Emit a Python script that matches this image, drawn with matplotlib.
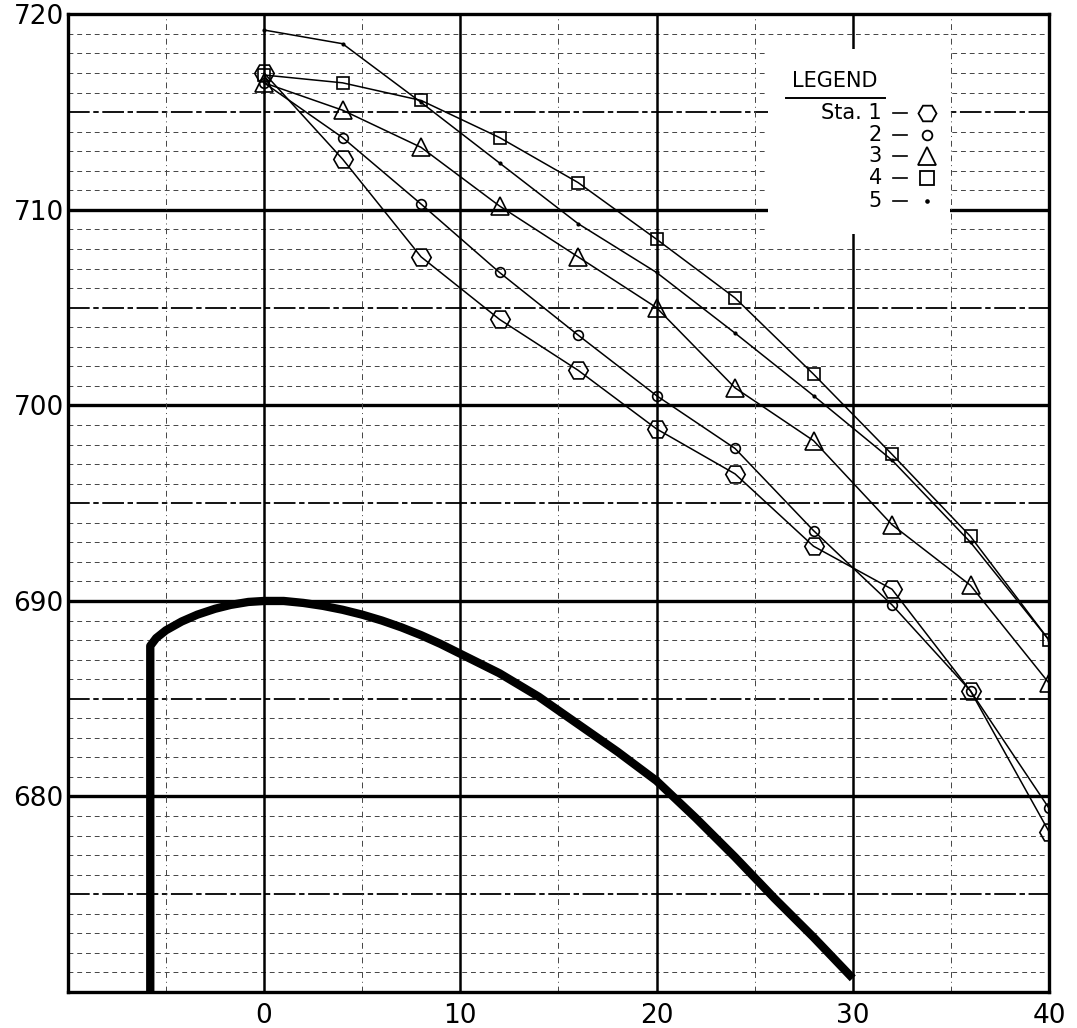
import numpy as np
import matplotlib
matplotlib.use('Agg')
from matplotlib import pyplot as plt
from matplotlib.patches import Rectangle

# station readings (x = distance, y = elevation)
xs = [0, 4, 8, 12, 16, 20, 24, 28, 32, 36, 40]
sta1 = [717.0, 712.6, 707.6, 704.4, 701.8, 698.8, 696.5, 692.8, 690.6, 685.4, 678.2]
sta2 = [716.5, 713.7, 710.3, 706.8, 703.6, 700.5, 697.8, 693.6, 689.8, 685.4, 679.4]
sta3 = [716.5, 715.1, 713.2, 710.2, 707.6, 705.0, 700.9, 698.2, 693.9, 690.8, 685.8]
sta4 = [716.9, 716.5, 715.6, 713.7, 711.4, 708.5, 705.5, 701.6, 697.5, 693.3, 688.0]
sta5 = [719.2, 718.5, 715.5, 712.4, 709.3, 706.8, 703.7, 700.5, 697.2, 693.0, 688.0]

# heavy profile curve
cx = [-5.8, -5.8, -5.5, -5.0, -4.2, -3.4, -2.5, -1.7, -0.8, 0, 1, 2, 3, 4, 5, 6, 7, 8, 9, 10,
      12, 14, 16, 18, 20, 22, 24, 26, 28, 30]
cy = [669.5, 687.7, 688.1, 688.5, 688.95, 689.3, 689.6, 689.8, 689.95, 690.0, 690.0, 689.9,
      689.75, 689.55, 689.3, 689.0, 688.65, 688.25, 687.8, 687.3,
      686.3, 685.1, 683.7, 682.3, 680.8, 678.9, 676.9, 674.8, 672.8, 670.7]

xticks = [0, 10, 20, 30, 40]
yticks = [680, 690, 700, 710, 720]

plt.rcParams['font.family'] = ['DejaVu Sans']
f = plt.figure(figsize=(10.77, 10.28), dpi=100)
ax = f.add_axes([0.063, 0.035, 0.911, 0.951])
ax.set_xlim(-10, 40)
ax.set_ylim(670, 720)

# grid: 1-unit dashed, 5-unit medium, 10-unit heavy
for yv in range(671, 720):
    if yv % 10 == 0:
        ax.axhline(yv, color='black', lw=2.4, zorder=1)
    elif yv % 5 == 0:
        ax.axhline(yv, color='black', lw=1.3, ls=(0, (12, 2, 3, 2)), zorder=1)
    else:
        ax.axhline(yv, color='#444444', lw=0.7, ls=(0, (5, 4)), zorder=1)
for xv in range(-5, 40, 5):
    if xv % 10 == 0:
        ax.axvline(xv, color='black', lw=1.8, zorder=1)
    else:
        ax.axvline(xv, color='#444444', lw=0.7, ls=(0, (6, 4, 1, 4)), zorder=1)

# blank legend box
ax.add_patch(Rectangle((0.7136, 0.775), 0.185, 0.19, transform=ax.transAxes,
                       facecolor='white', edgecolor='none', zorder=2))

ax.plot(xs, sta1, color='black', lw=1.1, marker='H', ms=14, mfc='none', mew=1.2, zorder=3)
ax.plot(xs, sta2, color='black', lw=1.1, marker='o', ms=7, mfc='none', mew=1.2, zorder=3)
ax.plot(xs, sta3, color='black', lw=1.1, marker='^', ms=13, mfc='none', mew=1.2, zorder=3)
ax.plot(xs, sta4, color='black', lw=1.1, marker='s', ms=9, mfc='none', mew=1.2, zorder=3)
ax.plot(xs, sta5, color='black', lw=1.1, marker='.', ms=4, zorder=3)
ax.plot(cx, cy, color='black', lw=6, solid_capstyle='butt', solid_joinstyle='round', zorder=3)

# legend, drawn by hand like the original lettering
ax.text(0.7819, 0.932, 'LEGEND', transform=ax.transAxes, fontsize=15,
        ha='center', va='center', zorder=4)
ax.plot([0.7319, 0.8328], [0.9141, 0.9141], transform=ax.transAxes, color='black', lw=1.4, zorder=4)
rows = [0.8988, 0.8763, 0.8548, 0.8323, 0.8088]
labels = ['Sta. 1', '2', '3', '4', '5']
styles = [('H', 13), ('o', 7), ('^', 13), ('s', 10), ('.', 4)]
for yy, lab, (mk, ms) in zip(rows, labels, styles):
    ax.text(0.8298, yy, lab, transform=ax.transAxes, fontsize=15, ha='right', va='center', zorder=4)
    ax.plot([0.841, 0.855], [yy, yy], transform=ax.transAxes, color='black', lw=1.2, zorder=4)
    ax.plot([0.8756], [yy], transform=ax.transAxes, marker=mk, ms=ms, mfc='none' if mk != '.' else 'black',
            mec='black', mew=1.3, ls='none', zorder=4)

ax.set_xticks(xticks)
ax.set_yticks(yticks)
ax.set_xticklabels([str(v) for v in xticks], fontsize=19)
ax.set_yticklabels([str(v) for v in yticks], fontsize=19)
ax.tick_params(length=0, pad=3)
ax.tick_params(axis='x', pad=8)
for s in ax.spines.values():
    s.set_linewidth(2.4)

plt.savefig('out.png', dpi=100)
